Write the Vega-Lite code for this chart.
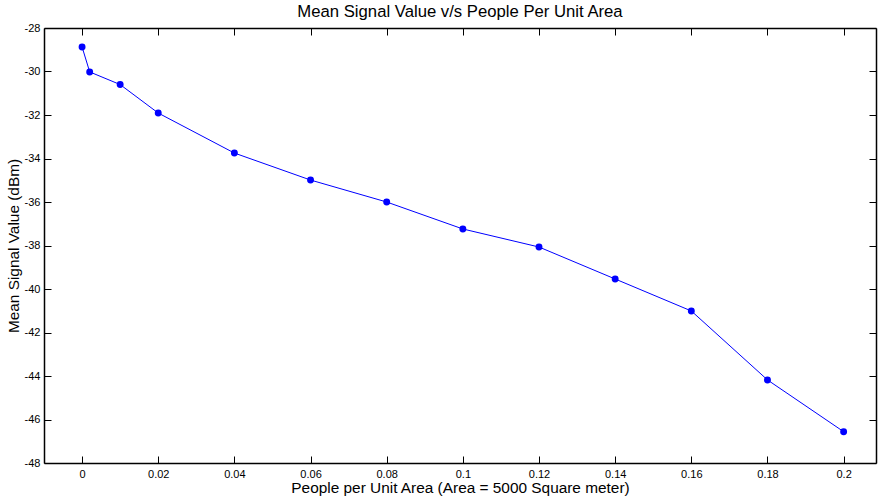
{
  "$schema": "https://vega.github.io/schema/vega-lite/v6.json",
  "autosize": {"type": "none"},
  "width": 832,
  "height": 435,
  "padding": {"left": 44, "top": 28, "right": 5, "bottom": 35},
  "background": "white",
  "title": {"text": "Mean Signal Value v/s People Per Unit Area", "font": "Liberation Sans", "fontSize": 16.7, "fontWeight": "normal", "color": "black", "offset": 1},
  "config": {
    "view": {"stroke": null},
    "axis": {"labelFont": "Liberation Sans", "labelFontSize": 11, "labelColor": "black", "titleFont": "Liberation Sans", "titleFontSize": 15.4, "titleFontWeight": "normal", "titleColor": "black", "domainColor": "black", "tickColor": "black", "grid": false, "tickSize": -7, "domainWidth": 1.5}
  },
  "data": {"values": [
    {"x": 0, "y": -28.87},
    {"x": 0.002, "y": -30.02},
    {"x": 0.01, "y": -30.6},
    {"x": 0.02, "y": -31.91},
    {"x": 0.04, "y": -33.75},
    {"x": 0.06, "y": -34.99},
    {"x": 0.08, "y": -36.0},
    {"x": 0.1, "y": -37.24},
    {"x": 0.12, "y": -38.07},
    {"x": 0.14, "y": -39.54},
    {"x": 0.16, "y": -41.01},
    {"x": 0.18, "y": -44.18},
    {"x": 0.2, "y": -46.56}
  ]},
  "layer": [
    {
      "mark": {"type": "line", "color": "#0000ff", "strokeWidth": 1},
      "encoding": {
        "x": {"field": "x", "type": "quantitative", "scale": {"domain": [-0.01, 0.2085], "nice": false, "zero": false},
              "axis": {"orient": "bottom", "title": "People per Unit Area (Area = 5000 Square meter)", "values": [0, 0.02, 0.04, 0.06, 0.08, 0.1, 0.12, 0.14, 0.16, 0.18, 0.2], "labelExpr": "'' + datum.value", "labelPadding": 12, "titlePadding": 1}},
        "y": {"field": "y", "type": "quantitative", "scale": {"domain": [-48, -28], "nice": false, "zero": false},
              "axis": {"orient": "left", "title": "Mean Signal Value (dBm)", "values": [-28, -30, -32, -34, -36, -38, -40, -42, -44, -46, -48], "labelExpr": "'' + datum.value", "labelPadding": 11, "titlePadding": 3}}
      }
    },
    {
      "mark": {"type": "point", "filled": true, "color": "#0000ff", "opacity": 1, "size": 48},
      "encoding": {
        "x": {"field": "x", "type": "quantitative",
              "axis": {"orient": "top", "title": null, "labels": false, "values": [0, 0.02, 0.04, 0.06, 0.08, 0.1, 0.12, 0.14, 0.16, 0.18, 0.2]}},
        "y": {"field": "y", "type": "quantitative",
              "axis": {"orient": "right", "title": null, "labels": false, "values": [-28, -30, -32, -34, -36, -38, -40, -42, -44, -46, -48]}}
      }
    }
  ],
  "resolve": {"axis": {"x": "independent", "y": "independent"}}
}
